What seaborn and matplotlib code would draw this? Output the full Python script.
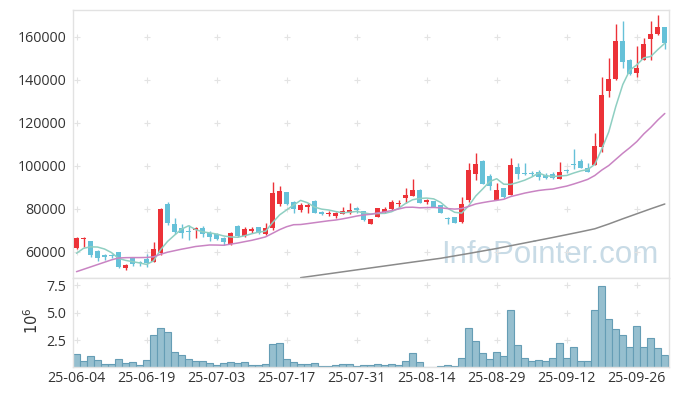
import numpy as np
import matplotlib
matplotlib.use("Agg")
import matplotlib.pyplot as plt
import seaborn as sns

# ---------------- data ----------------
tick_labels = ["25-06-04", "25-06-19", "25-07-03", "25-07-17", "25-07-31",
               "25-08-14", "25-08-29", "25-09-12", "25-09-26"]

opens = [61720, 66180, 65120, 60470, 58600, 58600, 59860, 52420, 57070, 55490,
         56740, 55490, 59400, 82320, 73020, 71300, 69900, 70230, 71300, 68700,
         68230, 66650, 63720, 72090, 67440, 69900, 71490, 68370, 71020, 82180,
         87760, 83110, 79530, 80790, 83720, 78740, 77530, 76740, 77810, 78000,
         80600, 79070, 73020, 76420, 78460, 79860, 82320, 85250, 86040, 88830,
         83250, 83580, 81630, 75810, 76140, 73720, 84410, 96040, 102320, 95490,
         84180, 89620, 86650, 99670, 96600, 96880, 97210, 95810, 96280, 93950,
         98140, 100930, 102320, 99210, 100460, 108970, 135000, 140450, 158120, 149300,
         143370, 149300, 159050, 161230, 164490]

highs = [67110, 67110, 65260, 60930, 59070, 59070, 60140, 54560, 57800, 55950,
         58930, 64790, 80460, 83110, 75670, 72880, 72560, 71500, 72230, 69770,
         68700, 67110, 69440, 72560, 71490, 71770, 71770, 73350, 92410, 90690,
         87900, 83860, 82650, 82650, 84180, 79070, 79210, 78460, 80790, 82650,
         80790, 79210, 75350, 80460, 81070, 84180, 84180, 89620, 93810, 89070,
         84790, 83720, 81860, 76420, 76280, 85440, 101530, 105900, 102560, 96280,
         91950, 89770, 103580, 101530, 101250, 97440, 98140, 96880, 97350, 101860,
         98740, 107770, 103250, 101250, 115490, 141620, 150440, 165890, 167560, 149770,
         155670, 159670, 167560, 170080, 164630]

lows = [61400, 62460, 57800, 55950, 56280, 57350, 52700, 51490, 53490, 53630,
        53160, 55350, 58740, 72560, 68370, 66370, 65580, 66370, 67110, 65120,
        65580, 63260, 63260, 67110, 67110, 68700, 68370, 67770, 70230, 81390,
        81860, 78280, 78740, 78280, 78140, 77210, 76880, 75670, 77670, 77810,
        78280, 74420, 72880, 76280, 78280, 79670, 81070, 82650, 85810, 82790,
        82320, 80930, 78140, 72880, 73490, 73490, 83250, 93490, 91390, 88830,
        83950, 85110, 86510, 93810, 95670, 95350, 93490, 93810, 93810, 93810,
        96600, 98460, 99070, 97210, 100230, 106650, 131940, 140220, 145440, 142540,
        141250, 149070, 149300, 161140, 154270]

closes = [66650, 66650, 58600, 57350, 57670, 58280, 53160, 54090, 54280, 54750,
          54750, 61400, 80000, 73620, 69440, 68700, 69160, 71300, 68230, 67110,
          65910, 64790, 68980, 67440, 70560, 70560, 68700, 71020, 87570, 88370,
          82180, 80000, 81860, 82000, 78280, 77530, 78000, 78280, 79070, 79530,
          79530, 74880, 75210, 80320, 79860, 83390, 82930, 86510, 88830, 82930,
          84180, 81070, 78280, 75120, 73620, 82320, 98130, 100930, 91620, 90840,
          88830, 85440, 100460, 96140, 96140, 96140, 94740, 94280, 94280, 97210,
          97440, 100460, 99210, 97350, 109300, 133010, 140450, 158120, 148490, 142650,
          145420, 156740, 161370, 164490, 157330]

volumes_m = [1.19, 0.58, 1.00, 0.67, 0.27, 0.27, 0.73, 0.37, 0.46, 0.18,
             0.64, 2.93, 3.57, 3.20, 1.37, 1.10, 0.73, 0.55, 0.55, 0.37,
             0.18, 0.37, 0.46, 0.37, 0.46, 0.18, 0.18, 0.27, 2.10, 2.20,
             0.73, 0.46, 0.27, 0.27, 0.37, 0.09, 0.09, 0.18, 0.27, 0.33,
             0.09, 0.24, 0.18, 0.33, 0.18, 0.33, 0.18, 0.55, 1.28, 0.46,
             0.06, 0.06, 0.15, 0.24, 0.09, 0.82, 3.57, 2.38, 1.28, 0.73,
             1.37, 1.00, 5.22, 2.02, 0.82, 0.55, 0.64, 0.55, 0.82, 2.20,
             0.82, 1.83, 0.55, 0.55, 5.22, 7.42, 4.40, 3.48, 2.93, 1.83,
             3.76, 1.83, 2.66, 1.74, 1.10]

# moving-average values at the start of the window (earlier history not shown)
ma5_head = [59400, 61700, 62400, 62300]
ma20_head = [50840, 51940, 53040, 54140, 55240, 56340, 57200, 57350, 57400, 57400,
             57450, 57750, 58950, 59900, 60600, 61300, 61900, 62550, 62900]
# 60-day MA (visible part only)
ma60_idx = [32, 36, 40, 44, 48, 52, 56, 60, 64, 68, 72, 74, 76, 78, 80, 82, 84]
ma60_val = [48050, 49860, 51680, 53490, 55300, 57070, 59300, 61630, 64190, 66740,
            69390, 70790, 73020, 75440, 77760, 80090, 82320]

price_ticks = [60000, 80000, 100000, 120000, 140000, 160000]
vol_ticks = [2.5, 5.0, 7.5]

# ---------------- derived ----------------
o = np.array(opens, float); c = np.array(closes, float)
h = np.array(highs, float); l = np.array(lows, float)
n = len(c)
idx = np.arange(n)

def rolling(vals, w, head):
    out = list(head)
    for i in range(len(head), len(vals)):
        out.append(np.mean(vals[i - w + 1:i + 1]))
    return np.array(out)

ma5 = rolling(c, 5, ma5_head)
ma20 = rolling(c, 20, ma20_head)

RED = "#ec3238"
BLUE = "#66c1d8"
GRID = "#e3e3e3"
SPINE = "#e2e2e2"
TXT = "#333333"

sns.set_theme(style="white")
plt.rcParams["font.family"] = ["Open Sans", "DejaVu Sans"]

fig = plt.figure(figsize=(6.77, 3.96), dpi=100)
ax = fig.add_axes([73 / 677, 118 / 396, 596 / 677, 268 / 396])
axv = fig.add_axes([73 / 677, 28.7 / 396, 596 / 677, 89.3 / 396])

# watermark
ax.text(0.80, 0.085, "InfoPointer.com", transform=ax.transAxes, ha="center",
        va="center", fontsize=22.5, color="#c8dbe6", family="Liberation Sans", zorder=0)

# candles
up = c > o
cols = np.where(up, RED, BLUE)
ax.vlines(idx, l, h, colors=cols, linewidth=1.0, zorder=2)
body = np.maximum(np.abs(c - o), 550)
ax.bar(idx, body, bottom=np.minimum(o, c), width=0.72, color=cols, linewidth=0, zorder=3)

# moving averages
sns.lineplot(x=idx, y=ma5, ax=ax, color="#8fcfc2", linewidth=1.1, zorder=4, legend=False)
sns.lineplot(x=idx, y=ma20, ax=ax, color="#c984c3", linewidth=1.1, zorder=4, legend=False)
sns.lineplot(x=ma60_idx, y=ma60_val, ax=ax, color="#8a8a8a", linewidth=1.1, zorder=4, legend=False)

xt = list(range(0, n, 10))

# grid crosses
gx, gy = np.meshgrid(xt, price_ticks)
ax.scatter(gx.ravel(), gy.ravel(), marker="+", s=14, color=GRID, linewidths=0.8, zorder=1)

ax.set_xlim(-0.5, 84.6)
ax.set_ylim(47900, 172550)
ax.set_yticks(price_ticks)
ax.set_yticklabels([str(t) for t in price_ticks])
ax.set_xticks(xt)
ax.set_xticklabels([])
ax.set_xlabel(""); ax.set_ylabel("")

# volume
sns.barplot(x=idx, y=volumes_m, ax=axv, native_scale=True, color="#96bfcf",
            saturation=1, width=1.0, edgecolor="#659db5", linewidth=0.8, zorder=2)
vx, vy = np.meshgrid(xt, vol_ticks)
axv.scatter(vx.ravel(), vy.ravel(), marker="+", s=14, color=GRID, linewidths=0.8, zorder=1)
axv.set_xlim(-0.5, 84.6)
axv.set_ylim(0, 8.18)
axv.set_yticks(vol_ticks)
axv.set_yticklabels(["2.5", "5.0", "7.5"])
axv.set_xticks(xt)
axv.set_xticklabels(tick_labels)
axv.set_xlabel(""); axv.set_ylabel("")

for a in (ax, axv):
    a.tick_params(axis="both", length=0, labelsize=10.3, colors=TXT)
    a.tick_params(axis="y", pad=5)
    a.tick_params(axis="x", pad=3)
    for s in a.spines.values():
        s.set_color(SPINE)
        s.set_linewidth(1.0)
    a.grid(False)
    a.set_facecolor("white")

fig.text(33 / 677, 1 - 321 / 396, r"$10^6$", rotation=90, ha="center", va="center",
         fontsize=10.5, color=TXT)

fig.savefig("out.png", dpi=100)
